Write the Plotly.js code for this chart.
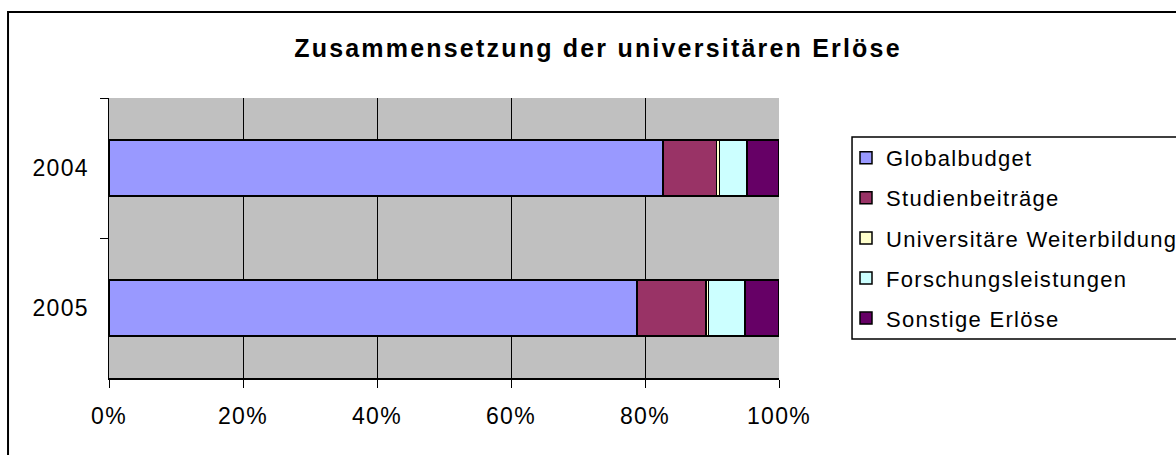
<!DOCTYPE html>
<html>
<head>
<meta charset="utf-8">
<script src="https://cdn.plot.ly/plotly-3.0.1.min.js"></script>
<style>
  html, body { margin: 0; padding: 0; background: #fff; }
  #chart { width: 1176px; height: 455px; }
  /* global, damit auch Plotlys Messelement den Abstand sieht */
  svg text { letter-spacing: 1.3px; }
  svg .gtitle { letter-spacing: 2.2px; }
</style>
</head>
<body>
<div id="chart"></div>
<script>
// Jahre (2004 oben)
const years = ['2004', '2005'];

// Anteile in Prozent
const globalbudget   = [82.7, 78.8];
const studienbeitr   = [8.0, 10.3];
const weiterbildung  = [0.4, 0.4];
const forschung      = [4.1, 5.4];
const sonstige       = [4.8, 5.1];

const seriesNames  = ['Globalbudget', 'Studienbeiträge', 'Universitäre Weiterbildung', 'Forschungsleistungen', 'Sonstige Erlöse'];
const seriesValues = [globalbudget, studienbeitr, weiterbildung, forschung, sonstige];
const seriesColors = ['#9999FF', '#993366', '#FFFFCC', '#CCFFFF', '#660066'];

const xTickVals = [0, 20, 40, 60, 80, 100];
const xTickText = xTickVals.map(v => v + '%');

const font = 'Arial, "Liberation Sans", sans-serif';

const traces = seriesNames.map(function (name, i) {
    return {
        type: 'bar',
        orientation: 'h',
        name: name,
        legendgroup: 'g' + i,
        y: years,
        x: seriesValues[i],
        width: 0.4,
        marker: { color: seriesColors[i], line: { color: '#000', width: 1.5 } },
        hoverinfo: 'name+x'
    };
});

const layout = {
    width: 1176,
    height: 455,
    margin: { l: 109, r: 397, t: 98, b: 77, autoexpand: false },
    paper_bgcolor: '#fff',
    plot_bgcolor: '#C0C0C0',
    font: { family: font, size: 22, color: '#000' },
    barmode: 'stack',
    barnorm: 'percent',
    showlegend: true,
    title: {
        text: '<b>Zusammensetzung der universitären Erlöse</b>',
        font: { family: font, size: 25, color: '#000' },
        x: 0.5085, xanchor: 'center',
        y: 0.8945, yanchor: 'middle'
    },
    xaxis: {
        range: [0, 100],
        tickmode: 'array',
        tickvals: xTickVals,
        ticktext: xTickText,
        tickfont: { family: font, size: 23, color: '#000' },
        showgrid: true,
        gridcolor: '#000',
        gridwidth: 1,
        zeroline: false,
        showline: true,
        linecolor: '#000',
        linewidth: 1.5,
        ticks: 'outside',
        ticklen: 8,
        tickcolor: '#000',
        ticklabelstandoff: 9,
        fixedrange: true
    },
    yaxis: {
        type: 'category',
        autorange: 'reversed',
        tickfont: { family: font, size: 23, color: '#000' },
        showgrid: false,
        showline: true,
        linecolor: '#000',
        linewidth: 1.5,
        ticks: 'outside',
        tickson: 'boundaries',
        ticklen: 8,
        tickcolor: '#000',
        ticklabelstandoff: 14,
        fixedrange: true
    },
    legend: {
        x: 1.1, xanchor: 'left',
        y: 0.861, yanchor: 'top',
        bgcolor: 'rgba(0,0,0,0)',
        borderwidth: 0,
        traceorder: 'grouped',
        tracegroupgap: 8.5,
        font: { family: font, size: 22, color: '#000' }
    },
    shapes: [
        // äußerer Rahmen (rechts und unten abgeschnitten)
        { type: 'rect', xref: 'paper', yref: 'paper', x0: -0.1507, x1: 2, y0: -1, y1: 1.307,
          line: { color: '#000', width: 2 }, fillcolor: 'rgba(0,0,0,0)', layer: 'below' },
        // Legendenrahmen
        { type: 'rect', xref: 'paper', yref: 'paper', x0: 1.109, x1: 2, y0: 0.139, y1: 0.861,
          line: { color: '#000', width: 1.5 }, fillcolor: 'rgba(0,0,0,0)' }
    ]
};

Plotly.newPlot('chart', traces, layout, { displayModeBar: false, staticPlot: true });
</script>
</body>
</html>
